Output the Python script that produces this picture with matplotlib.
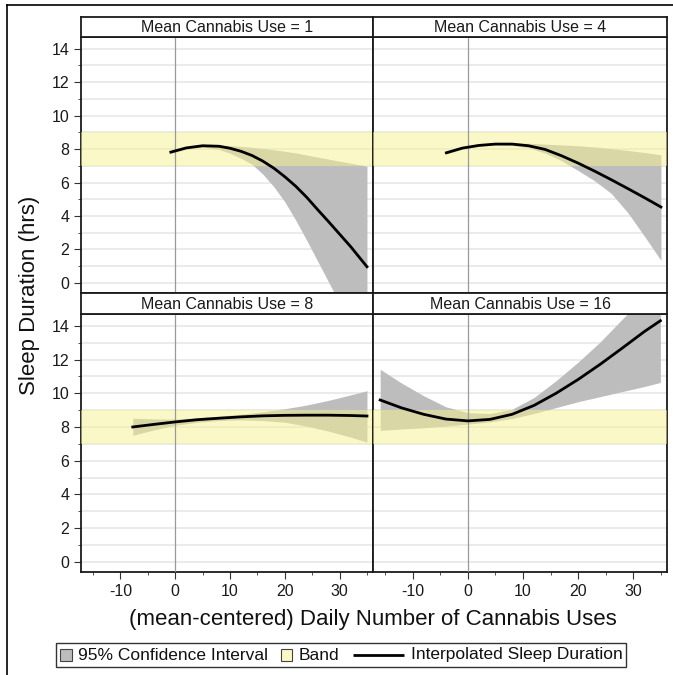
import matplotlib.pyplot as plt
from matplotlib.lines import Line2D
from matplotlib.patches import Rectangle
from matplotlib.offsetbox import AnchoredOffsetbox, DrawingArea, HPacker, TextArea
from matplotlib.ticker import MultipleLocator

plt.rcParams['font.family'] = ['Liberation Sans', 'DejaVu Sans']
plt.rcParams['axes.unicode_minus'] = False

mean_use = [1, 4, 8, 16]

# predicted sleep duration with 95% CI, one set per mean-use level
x_m1 = [-0.8, 2, 5, 8, 10, 12, 14, 16, 18, 20, 22, 24, 26, 28, 30, 32, 35]
fit_m1 = [7.82, 8.07, 8.20, 8.17, 8.05, 7.87, 7.62, 7.28, 6.86, 6.35, 5.78, 5.12, 4.38, 3.66, 2.92, 2.18, 0.97]
lo_m1 = [7.74, 8.00, 8.12, 7.98, 7.75, 7.45, 7.10, 6.50, 5.75, 4.85, 3.75, 2.55, 1.30, 0.05, -1.20, -2.45, -4.30]
hi_m1 = [7.90, 8.12, 8.25, 8.25, 8.21, 8.16, 8.11, 8.04, 7.96, 7.87, 7.77, 7.65, 7.52, 7.40, 7.28, 7.16, 6.98]

x_m4 = [-3.9, -1, 2, 5, 8, 11, 14, 17, 20, 23, 26, 29, 32, 35]
fit_m4 = [7.78, 8.06, 8.22, 8.30, 8.30, 8.20, 7.98, 7.60, 7.16, 6.68, 6.17, 5.64, 5.10, 4.54]
lo_m4 = [7.70, 8.00, 8.17, 8.25, 8.22, 8.08, 7.76, 7.30, 6.72, 6.10, 5.35, 4.20, 2.80, 1.35]
hi_m4 = [7.86, 8.12, 8.27, 8.35, 8.37, 8.35, 8.30, 8.25, 8.20, 8.13, 8.03, 7.92, 7.80, 7.66]

x_m8 = [-7.75, -4, 0, 4, 8, 12, 16, 20, 24, 28, 32, 35]
fit_m8 = [8.00, 8.15, 8.30, 8.43, 8.52, 8.60, 8.66, 8.69, 8.70, 8.70, 8.68, 8.65]
lo_m8 = [7.50, 7.82, 8.10, 8.28, 8.38, 8.42, 8.38, 8.28, 8.05, 7.75, 7.40, 7.10]
hi_m8 = [8.52, 8.48, 8.47, 8.55, 8.64, 8.76, 8.90, 9.08, 9.30, 9.58, 9.90, 10.15]

x_m16 = [-15.9, -12, -8, -4, 0, 4, 8, 12, 16, 20, 24, 28, 32, 34.9]
fit_m16 = [9.60, 9.13, 8.75, 8.47, 8.36, 8.45, 8.75, 9.28, 10.00, 10.82, 11.72, 12.68, 13.66, 14.30]
lo_m16 = [7.80, 7.88, 7.95, 8.05, 8.17, 8.30, 8.50, 8.80, 9.15, 9.50, 9.80, 10.10, 10.40, 10.64]
hi_m16 = [11.42, 10.60, 9.85, 9.20, 8.85, 8.80, 9.05, 9.75, 10.75, 11.85, 13.05, 14.40, 15.70, 16.70]

band = (7, 9)

panels = [
    (x_m1, fit_m1, lo_m1, hi_m1),
    (x_m4, fit_m4, lo_m4, hi_m4),
    (x_m8, fit_m8, lo_m8, hi_m8),
    (x_m16, fit_m16, lo_m16, hi_m16),
]

W, H = 673, 675
CI_COLOR = '#bdbdbd'
BAND_COLOR = '#f8f290'
EDGE = '#1a1a1a'


def px_box(x0, y0, x1, y1):
    return [x0 / W, 1 - y1 / H, (x1 - x0) / W, (y1 - y0) / H]


fig = plt.figure(figsize=(W / 100, H / 100), dpi=100)

cols = [(81, 373), (373, 667)]
rows = [(17, 37, 293), (293, 314, 572)]

for i, (x, fit, lo, hi) in enumerate(panels):
    r, c = divmod(i, 2)
    x0, x1 = cols[c]
    h0, h1, y1 = rows[r]

    ax = fig.add_axes(px_box(x0, h1, x1, y1))
    ax.set_xlim(-17.2, 36.1)
    ax.set_ylim(-0.6, 14.7)
    ax.set_axisbelow(True)

    ax.fill_between(x, lo, hi, color=CI_COLOR, lw=0, zorder=2)
    ax.axhspan(band[0], band[1], color=BAND_COLOR, alpha=0.5, lw=0, zorder=3)
    ax.axvline(0, color='#9a9a9a', lw=0.9, zorder=3.5)
    ax.plot(x, fit, color='black', lw=2.0, zorder=4)

    ax.xaxis.set_major_locator(MultipleLocator(10))
    ax.xaxis.set_minor_locator(MultipleLocator(10, offset=5))
    ax.yaxis.set_major_locator(MultipleLocator(2))
    ax.yaxis.set_minor_locator(MultipleLocator(1))
    ax.grid(axis='y', which='both', color='#e6e6e6', lw=1.1)

    ax.tick_params(which='both', direction='out', color='#333333',
                   labelcolor='#1a1a1a', labelsize=11.5)
    ax.tick_params(which='major', length=5, pad=3.5)
    ax.tick_params(which='minor', length=2.5)
    if c == 1:
        ax.tick_params(axis='y', which='both', left=False, labelleft=False)
    if r == 0:
        ax.tick_params(axis='x', which='both', bottom=False, labelbottom=False)
    for s in ax.spines.values():
        s.set_color(EDGE)
        s.set_linewidth(1.3)

    hdr = fig.add_axes(px_box(x0, h0, x1, h1))
    hdr.set_xticks([])
    hdr.set_yticks([])
    for s in hdr.spines.values():
        s.set_color(EDGE)
        s.set_linewidth(1.3)
    hdr.text(0.5, 0.45, f'Mean Cannabis Use = {mean_use[i]}', ha='center', va='center',
             fontsize=11.5, color='#1a1a1a', transform=hdr.transAxes)

fig.text(30 / W, 1 - 295 / H, 'Sleep Duration (hrs)', rotation=90,
         ha='center', va='center', fontsize=16, color='#111111')
fig.text(373 / W, 1 - 620 / H, '(mean-centered) Daily Number of Cannabis Uses',
         ha='center', va='center', fontsize=16, color='#111111')

# outer frame (top and left edges)
fig.add_artist(Line2D([7 / W, 1], [1 - 5 / H, 1 - 5 / H], transform=fig.transFigure,
                      color='black', lw=1.2))
fig.add_artist(Line2D([7 / W, 7 / W], [0, 1 - 5 / H], transform=fig.transFigure,
                      color='black', lw=1.2))


def swatch(face):
    da = DrawingArea(9, 9, 0, 0)
    da.add_artist(Rectangle((0.4, 0.4), 8.2, 8.2, facecolor=face, edgecolor='#444444', lw=0.8))
    return da


def line_key():
    da = DrawingArea(38.5, 9, 0, 0)
    da.add_artist(Line2D([1, 37.5], [4.5, 4.5], color='black', lw=2.0,
                         solid_capstyle='butt'))
    return da


tp = dict(fontsize=12.5, color='#111111')
entries = [
    (swatch(CI_COLOR), '95% Confidence Interval'),
    (swatch('#fbf8c4'), 'Band'),
    (line_key(), 'Interpolated Sleep Duration'),
]
row = HPacker(children=[HPacker(children=[h, TextArea(t, textprops=tp)],
                                align='center', pad=0, sep=4)
                        for h, t in entries],
              align='center', pad=0, sep=9)
leg = AnchoredOffsetbox(loc='center', child=row, pad=0.3, borderpad=0, frameon=True,
                        bbox_to_anchor=(341 / W, 1 - 655 / H),
                        bbox_transform=fig.transFigure)
leg.patch.set_boxstyle('square', pad=0)
leg.patch.set_edgecolor('#333333')
leg.patch.set_linewidth(1.0)
fig.add_artist(leg)

fig.savefig('out.png', dpi=100)
